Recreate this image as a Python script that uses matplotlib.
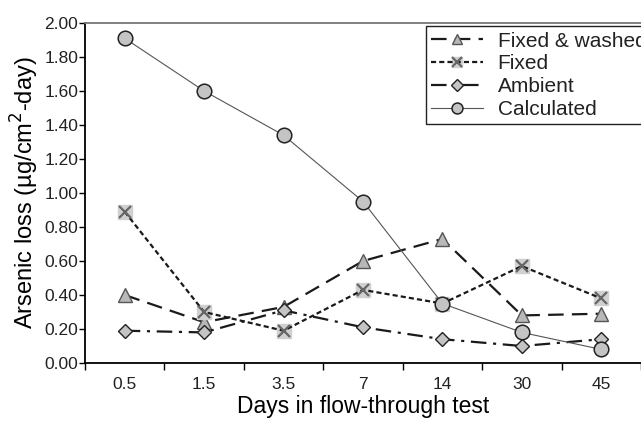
import matplotlib
matplotlib.use('Agg')
import matplotlib.pyplot as plt
from matplotlib.legend_handler import HandlerTuple

days = ['0.5', '1.5', '3.5', '7', '14', '30', '45']
fixed_washed = [0.40, 0.24, 0.33, 0.60, 0.73, 0.28, 0.29]
fixed = [0.89, 0.30, 0.19, 0.43, 0.35, 0.57, 0.38]
ambient = [0.19, 0.18, 0.31, 0.21, 0.14, 0.10, 0.14]
calculated = [1.91, 1.60, 1.34, 0.95, 0.35, 0.18, 0.08]
yticks = [0.0, 0.2, 0.4, 0.6, 0.8, 1.0, 1.2, 1.4, 1.6, 1.8, 2.0]

plt.rcParams['font.family'] = ['Liberation Sans Narrow', 'Liberation Sans', 'DejaVu Sans']
plt.rcParams['text.color'] = '#222222'

fig = plt.figure(figsize=(6.41, 4.23), dpi=100)
ax = fig.add_axes([0.1326, 0.1418, 0.8674, 0.8038])
x = list(range(len(days)))

h1, = ax.plot(x, fixed_washed, color='#1a1a1a', lw=1.6, dashes=(7, 3.7),
              marker='^', ms=10, mfc='#b8b8b8', mec='#555555', mew=1.0)
sq, = ax.plot(x, fixed, ls='none', marker='s', ms=9.5, mfc='#d0d0d0', mec='#d0d0d0')
h2, = ax.plot(x, fixed, color='#1a1a1a', lw=1.6, dashes=(2.3, 1.4),
              marker='x', ms=9, mec='#666666', mew=1.6)
h3, = ax.plot(x, ambient, color='#1a1a1a', lw=1.6, dashes=(7, 3, 1.4, 3),
              marker='D', ms=7.5, mfc='#c4c4c4', mec='#222222', mew=1.0)
h4, = ax.plot(x, calculated, color='#555555', lw=0.8,
              marker='o', ms=10.5, mfc='#c4c4c4', mec='#222222', mew=1.1)

ax.set_xlim(-0.5, 6.41)
ax.set_ylim(0, 2.0)
ax.set_yticks(yticks)
ax.set_yticklabels(['%.2f' % v for v in yticks], fontsize=12.5, color='#222222')
ax.set_xticks(x)
ax.set_xticklabels(days, fontsize=12.5, color='#222222')
ax.set_xticks([i - 0.5 for i in range(len(days) + 1)], minor=True)
ax.tick_params(axis='x', which='major', length=0, pad=10)
ax.tick_params(axis='x', which='minor', length=5, direction='out', width=1)
ax.tick_params(axis='y', length=4, direction='out', width=1, pad=1)

ax.spines['right'].set_visible(False)
ax.spines['top'].set_color('#777777')
ax.spines['top'].set_linewidth(1.3)
ax.spines['left'].set_linewidth(1.3)
ax.spines['bottom'].set_linewidth(1.3)

ax.set_ylabel('Arsenic loss (µg/cm$^{2}$-day)', fontsize=17, labelpad=2)
ax.set_xlabel('Days in flow-through test', fontsize=16.5, labelpad=2)

leg = ax.legend([h1, (sq, h2), h3, h4], ['Fixed & washed', 'Fixed', 'Ambient', 'Calculated'],
                handler_map={tuple: HandlerTuple(ndivide=1, pad=0)},
                loc='upper left', bbox_to_anchor=(0.613, 0.99), fontsize=15,
                frameon=True, fancybox=False, edgecolor='#222222', framealpha=1,
                borderpad=0.25, labelspacing=0.18, handlelength=2.5, handletextpad=0.7,
                markerscale=0.75, borderaxespad=0)
leg.get_frame().set_linewidth(1.0)

fig.savefig('out.png', dpi=100)
